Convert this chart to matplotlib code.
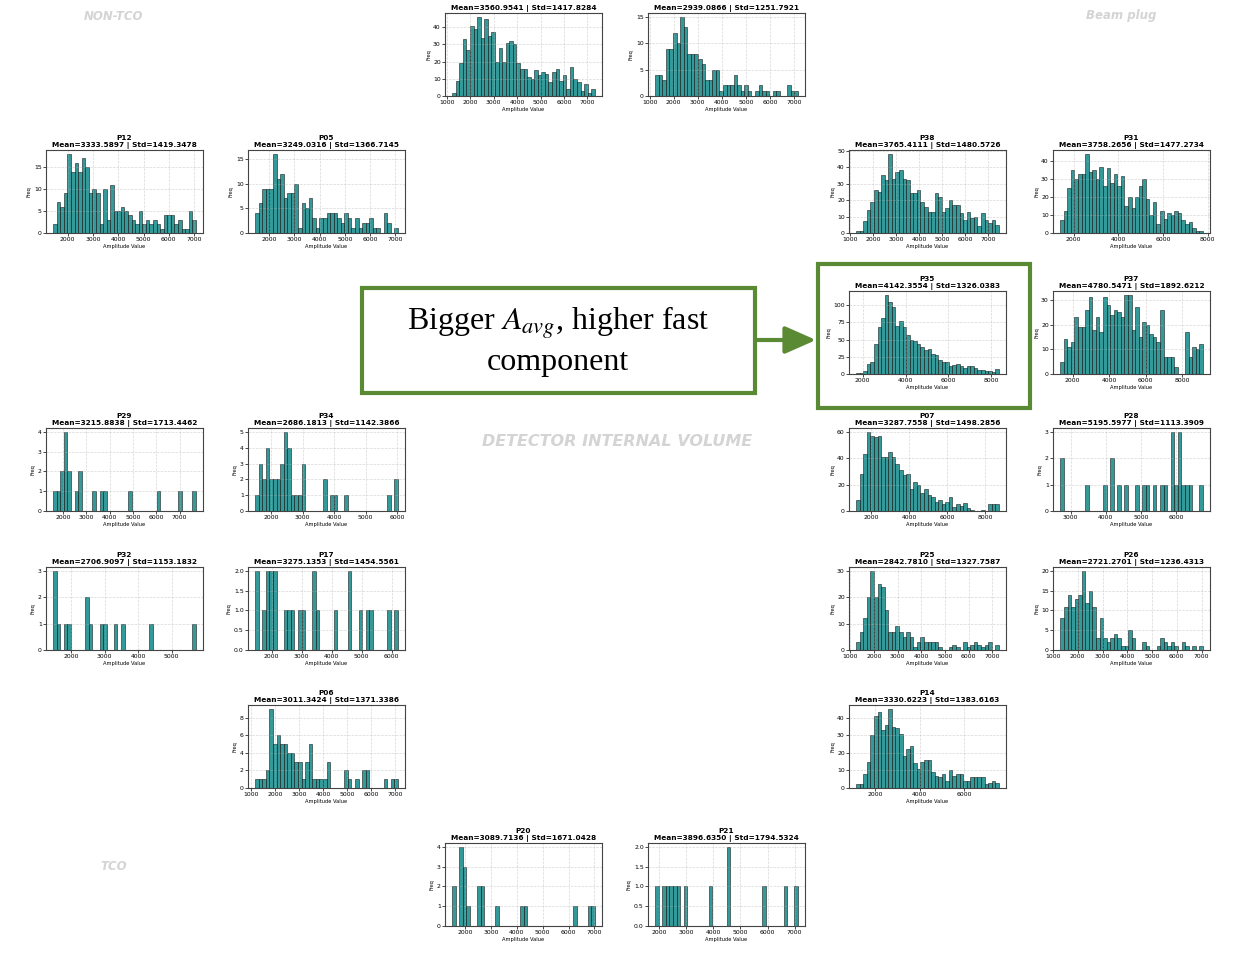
import numpy as np
import matplotlib
matplotlib.use("Agg")
import matplotlib.pyplot as plt
from matplotlib.patches import Rectangle, FancyArrowPatch

plt.rcParams['mathtext.fontset'] = 'stix'

# ------------------------------------------------------------------ data
TOP1_title = "Mean=3560.9541 | Std=1417.8284"
TOP1_range = (1220, 7320)
TOP1_counts = [2, 9, 19, 33, 27, 41, 39, 46, 34, 45, 35, 37, 20, 28, 20, 31, 32, 30, 19, 16,
               16, 11, 10, 15, 12, 14, 13, 8, 14, 16, 9, 12, 4, 17, 10, 8, 3, 7, 2, 4]
TOP1_xticks = [1000, 2000, 3000, 4000, 5000, 6000, 7000]
TOP1_yticks = [0, 10, 20, 30, 40]

TOP2_title = "Mean=2939.0866 | Std=1251.7921"
TOP2_range = (1230, 7150)
TOP2_counts = [4, 4, 3, 9, 9, 12, 10, 15, 13, 8, 8, 8, 7, 6, 3, 3, 5, 5, 1, 2,
               2, 2, 4, 2, 1, 2, 1, 0, 1, 2, 1, 1, 0, 1, 1, 0, 0, 2, 1, 1]
TOP2_xticks = [1000, 2000, 3000, 4000, 5000, 6000, 7000]
TOP2_yticks = [0, 5, 10, 15]

P12_title = "P12\nMean=3333.5897 | Std=1419.3478"
P12_range = (1420, 7070)
P12_counts = [2, 7, 6, 9, 18, 14, 16, 14, 17, 15, 9, 10, 9, 2, 10, 3, 11, 5, 5, 6,
              5, 4, 3, 2, 5, 2, 3, 2, 3, 2, 1, 4, 4, 4, 2, 3, 1, 1, 5, 3]
P12_xticks = [2000, 3000, 4000, 5000, 6000, 7000]
P12_yticks = [0, 5, 10, 15]

P05_title = "P05\nMean=3249.0316 | Std=1366.7145"
P05_range = (1450, 7100)
P05_counts = [4, 6, 9, 9, 9, 16, 11, 12, 7, 8, 8, 10, 1, 6, 5, 7, 3, 1, 3, 3,
              4, 4, 4, 3, 2, 4, 3, 1, 3, 1, 2, 2, 3, 1, 1, 0, 4, 2, 0, 1]
P05_xticks = [2000, 3000, 4000, 5000, 6000, 7000]
P05_yticks = [0, 5, 10, 15]

P38_title = "P38\nMean=3765.4111 | Std=1480.5726"
P38_range = (1270, 7450)
P38_counts = [1, 1, 7, 14, 19, 26, 25, 35, 32, 48, 33, 37, 38, 33, 32, 24, 24, 26, 19, 16,
              13, 13, 24, 22, 13, 15, 20, 17, 17, 12, 8, 13, 9, 10, 4, 12, 8, 6, 8, 5]
P38_xticks = [1000, 2000, 3000, 4000, 5000, 6000, 7000]
P38_yticks = [0, 10, 20, 30, 40, 50]

P31_title = "P31\nMean=3758.2656 | Std=1477.2734"
P31_range = (1400, 7780)
P31_counts = [7, 12, 25, 35, 30, 33, 33, 44, 34, 35, 30, 37, 26, 36, 28, 33, 26, 32, 15, 20,
              14, 20, 26, 30, 19, 10, 17, 5, 12, 8, 11, 10, 12, 11, 7, 5, 6, 3, 1, 1]
P31_xticks = [2000, 4000, 6000, 8000]
P31_yticks = [0, 10, 20, 30, 40]

P35_title = "P35\nMean=4142.3554 | Std=1326.0383"
P35_range = (1700, 8350)
P35_counts = [2, 1, 5, 14, 18, 43, 68, 82, 115, 105, 97, 70, 77, 69, 57, 50, 48, 44, 40, 35,
              37, 29, 27, 21, 18, 18, 11, 13, 14, 12, 9, 11, 12, 9, 6, 6, 5, 4, 3, 7]
P35_xticks = [2000, 4000, 6000, 8000]
P35_yticks = [0, 25, 50, 75, 100]

P37_title = "P37\nMean=4780.5471 | Std=1892.6212"
P37_range = (1310, 9120)
P37_counts = [5, 14, 11, 13, 23, 19, 19, 26, 31, 18, 23, 17, 31, 28, 24, 26, 25, 23, 32, 32,
              18, 27, 15, 21, 20, 16, 15, 13, 26, 7, 7, 7, 3, 0, 0, 17, 7, 11, 10, 12]
P37_xticks = [2000, 4000, 6000, 8000]
P37_yticks = [0, 10, 20, 30]

P29_title = "P29\nMean=3215.8838 | Std=1713.4462"
P29_range = (1580, 7700)
P29_counts = [1, 1, 2, 4, 2, 0, 1, 2, 0, 0, 0, 1, 0, 1, 1, 0, 0, 0, 0, 0,
              0, 1, 0, 0, 0, 0, 0, 0, 0, 1, 0, 0, 0, 0, 0, 1, 0, 0, 0, 1]
P29_xticks = [2000, 3000, 4000, 5000, 6000, 7000]
P29_yticks = [0, 1, 2, 3, 4]

P34_title = "P34\nMean=2686.1813 | Std=1142.3866"
P34_range = (1480, 6030)
P34_counts = [1, 3, 2, 4, 2, 2, 2, 3, 5, 4, 1, 1, 1, 3, 0, 0, 0, 0, 0, 2,
              0, 1, 1, 0, 0, 1, 0, 0, 0, 0, 0, 0, 0, 0, 0, 0, 0, 1, 0, 2]
P34_xticks = [2000, 3000, 4000, 5000, 6000]
P34_yticks = [0, 1, 2, 3, 4, 5]

P07_title = "P07\nMean=3287.7558 | Std=1498.2856"
P07_range = (1190, 8720)
P07_counts = [8, 28, 43, 60, 57, 56, 57, 41, 41, 45, 41, 36, 31, 27, 28, 17, 22, 20, 14, 17,
              12, 11, 7, 8, 5, 7, 11, 3, 5, 4, 6, 2, 1, 0, 0, 1, 0, 5, 5, 5]
P07_xticks = [2000, 4000, 6000, 8000]
P07_yticks = [0, 20, 40, 60]

P28_title = "P28\nMean=5195.5977 | Std=1113.3909"
P28_range = (2700, 6760)
P28_counts = [2, 0, 0, 0, 0, 0, 0, 1, 0, 0, 0, 0, 1, 0, 2, 0, 1, 0, 1, 0,
              0, 1, 0, 1, 1, 0, 1, 0, 1, 1, 0, 3, 1, 3, 1, 1, 1, 0, 0, 1]
P28_xticks = [3000, 4000, 5000, 6000]
P28_yticks = [0, 1, 2, 3]

P32_title = "P32\nMean=2706.9097 | Std=1153.1832"
P32_range = (1450, 5730)
P32_counts = [3, 1, 0, 1, 1, 0, 0, 0, 0, 2, 1, 0, 0, 1, 1, 0, 0, 1, 0, 1,
              0, 0, 0, 0, 0, 0, 0, 1, 0, 0, 0, 0, 0, 0, 0, 0, 0, 0, 0, 1]
P32_xticks = [2000, 3000, 4000, 5000]
P32_yticks = [0, 1, 2, 3]

P17_title = "P17\nMean=3275.1353 | Std=1454.5561"
P17_range = (1450, 6200)
P17_counts = [2, 0, 1, 2, 2, 2, 0, 0, 1, 1, 1, 0, 1, 1, 0, 0, 2, 1, 0, 0,
              0, 0, 1, 0, 0, 0, 2, 0, 0, 1, 0, 1, 1, 0, 0, 0, 0, 1, 0, 1]
P17_xticks = [2000, 3000, 4000, 5000, 6000]
P17_yticks = [0, 0.5, 1.0, 1.5, 2.0]

P25_title = "P25\nMean=2842.7810 | Std=1327.7587"
P25_range = (1250, 7280)
P25_counts = [3, 7, 12, 20, 30, 20, 25, 24, 15, 7, 7, 9, 7, 5, 7, 5, 1, 3, 5, 3,
              3, 3, 3, 1, 0, 0, 1, 2, 1, 0, 3, 1, 2, 3, 2, 1, 2, 3, 0, 2]
P25_xticks = [1000, 2000, 3000, 4000, 5000, 6000, 7000]
P25_yticks = [0, 10, 20, 30]

P26_title = "P26\nMean=2721.2701 | Std=1236.4313"
P26_range = (1300, 7050)
P26_counts = [8, 11, 14, 11, 13, 14, 20, 12, 15, 11, 3, 8, 3, 2, 3, 4, 3, 1, 1, 5,
              3, 0, 0, 2, 1, 0, 0, 1, 3, 2, 1, 2, 1, 0, 2, 1, 0, 1, 0, 1]
P26_xticks = [1000, 2000, 3000, 4000, 5000, 6000, 7000]
P26_yticks = [0, 5, 10, 15, 20]

P06_title = "P06\nMean=3011.3424 | Std=1371.3386"
P06_range = (1180, 7100)
P06_counts = [1, 1, 1, 2, 9, 5, 6, 5, 5, 4, 4, 3, 3, 1, 3, 5, 1, 1, 1, 1,
              3, 0, 0, 0, 0, 2, 1, 0, 1, 0, 2, 2, 0, 0, 0, 0, 1, 0, 1, 1]
P06_xticks = [1000, 2000, 3000, 4000, 5000, 6000, 7000]
P06_yticks = [0, 2, 4, 6, 8]

P14_title = "P14\nMean=3330.6223 | Std=1383.6163"
P14_range = (1150, 7550)
P14_counts = [2, 2, 8, 15, 30, 41, 43, 33, 36, 45, 35, 34, 31, 18, 22, 24, 14, 11, 15, 16,
              16, 9, 7, 6, 8, 4, 10, 7, 8, 8, 4, 4, 6, 6, 6, 6, 2, 3, 4, 3]
P14_xticks = [2000, 4000, 6000]
P14_yticks = [0, 10, 20, 30, 40]

P20_title = "P20\nMean=3089.7136 | Std=1671.0428"
P20_range = (1490, 7020)
P20_counts = [2, 0, 4, 3, 1, 0, 0, 2, 2, 0, 0, 0, 1, 0, 0, 0, 0, 0, 0, 1,
              1, 0, 0, 0, 0, 0, 0, 0, 0, 0, 0, 0, 0, 0, 1, 0, 0, 0, 1, 1]
P20_xticks = [2000, 3000, 4000, 5000, 6000, 7000]
P20_yticks = [0, 1, 2, 3, 4]

P21_title = "P21\nMean=3896.6350 | Std=1794.5324"
P21_range = (1850, 7120)
P21_counts = [1, 0, 1, 1, 1, 1, 1, 0, 1, 0, 0, 0, 0, 0, 0, 1, 0, 0, 0, 0,
              2, 0, 0, 0, 0, 0, 0, 0, 0, 0, 1, 0, 0, 0, 0, 0, 1, 0, 0, 1]
P21_xticks = [2000, 3000, 4000, 5000, 6000, 7000]
P21_yticks = [0, 0.5, 1.0, 1.5, 2.0]

REGION_LABELS = ["NON-TCO", "Beam plug", "DETECTOR INTERNAL VOLUME", "TCO"]
NOTE_TEXT = "Bigger $A_{avg}$, higher fast\ncomponent"

# ------------------------------------------------------------------ layout
W, H = 1242, 966
fig = plt.figure(figsize=(W / 100, H / 100), dpi=100)
fig.patch.set_facecolor("white")

COLS = {"A": 46, "B": 248, "C": 445, "D": 648, "E": 849, "F": 1053}
ROWS = {0: 13, 1: 150, 2: 291, 3: 428, 4: 567, 5: 705, 6: 843}
AX_W, AX_H = 157, 83

panels = [
    (TOP1_title, TOP1_range, TOP1_counts, TOP1_xticks, TOP1_yticks, "C", 0),
    (TOP2_title, TOP2_range, TOP2_counts, TOP2_xticks, TOP2_yticks, "D", 0),
    (P12_title, P12_range, P12_counts, P12_xticks, P12_yticks, "A", 1),
    (P05_title, P05_range, P05_counts, P05_xticks, P05_yticks, "B", 1),
    (P38_title, P38_range, P38_counts, P38_xticks, P38_yticks, "E", 1),
    (P31_title, P31_range, P31_counts, P31_xticks, P31_yticks, "F", 1),
    (P35_title, P35_range, P35_counts, P35_xticks, P35_yticks, "E", 2),
    (P37_title, P37_range, P37_counts, P37_xticks, P37_yticks, "F", 2),
    (P29_title, P29_range, P29_counts, P29_xticks, P29_yticks, "A", 3),
    (P34_title, P34_range, P34_counts, P34_xticks, P34_yticks, "B", 3),
    (P07_title, P07_range, P07_counts, P07_xticks, P07_yticks, "E", 3),
    (P28_title, P28_range, P28_counts, P28_xticks, P28_yticks, "F", 3),
    (P32_title, P32_range, P32_counts, P32_xticks, P32_yticks, "A", 4),
    (P17_title, P17_range, P17_counts, P17_xticks, P17_yticks, "B", 4),
    (P25_title, P25_range, P25_counts, P25_xticks, P25_yticks, "E", 4),
    (P26_title, P26_range, P26_counts, P26_xticks, P26_yticks, "F", 4),
    (P06_title, P06_range, P06_counts, P06_xticks, P06_yticks, "B", 5),
    (P14_title, P14_range, P14_counts, P14_xticks, P14_yticks, "E", 5),
    (P20_title, P20_range, P20_counts, P20_xticks, P20_yticks, "C", 6),
    (P21_title, P21_range, P21_counts, P21_xticks, P21_yticks, "D", 6),
]


def fx(px):
    return px / W


def fy(py):
    return 1 - py / H


BAR_FACE = (0.0, 0.502, 0.502, 0.8)   # teal, alpha 0.8 on the face only

for title, rng, counts, xt, yt, col, row in panels:
    left, top = COLS[col], ROWS[row]
    ax = fig.add_axes([fx(left), fy(top + AX_H), AX_W / W, AX_H / H])
    counts = np.asarray(counts, dtype=float)
    edges = np.linspace(rng[0], rng[1], len(counts) + 1)
    ax.hist(edges[:-1], bins=edges, weights=counts, facecolor=BAR_FACE,
            edgecolor="#1a1a1a", linewidth=0.4)
    ax.set_xticks(xt)
    ax.set_yticks(yt)
    ax.grid(True, linestyle="--", linewidth=0.5, alpha=0.5)
    ax.tick_params(labelsize=4.4, length=2, width=0.5, pad=1)
    for s in ax.spines.values():
        s.set_linewidth(0.8)
        s.set_color("#444444")
    ax.set_title(title, fontsize=5.3, fontweight="bold", pad=2.5, linespacing=1.15)
    ax.set_xlabel("Amplitude Value", fontsize=3.7, labelpad=1.5)
    ax.set_ylabel("Freq", fontsize=3.7, labelpad=1.5)

# faint region labels
lab_kw = dict(color="#d4d4d4", fontweight="bold", fontstyle="italic",
              ha="center", va="center")
fig.text(fx(113), fy(16), REGION_LABELS[0], fontsize=8.5, **lab_kw)
fig.text(fx(1121), fy(16), REGION_LABELS[1], fontsize=8.5, **lab_kw)
fig.text(fx(617), fy(441), REGION_LABELS[2], fontsize=11.5, **lab_kw)
fig.text(fx(114), fy(867), REGION_LABELS[3], fontsize=8.5, **lab_kw)

GREEN = "#5b8a35"

# annotation box
fig.add_artist(Rectangle((fx(362), fy(393)), (755 - 362) / W, (393 - 288) / H,
                         transform=fig.transFigure, facecolor="white",
                         edgecolor=GREEN, linewidth=3))
fig.text(fx(558), fy(341), NOTE_TEXT, fontsize=23, family="Liberation Serif",
         ha="center", va="center", linespacing=1.3)

# highlight box around P35
fig.add_artist(Rectangle((fx(818), fy(408)), (1030 - 818) / W, (408 - 264) / H,
                         transform=fig.transFigure, facecolor="none",
                         edgecolor=GREEN, linewidth=3, zorder=5))

# arrow
fig.add_artist(FancyArrowPatch((fx(756), fy(340)), (fx(816), fy(340)),
                               transform=fig.transFigure,
                               arrowstyle="-|>,head_length=0.95,head_width=0.42",
                               mutation_scale=20, color=GREEN, linewidth=3,
                               shrinkA=0, shrinkB=0))

fig.savefig("out.png", dpi=100, facecolor="white")
